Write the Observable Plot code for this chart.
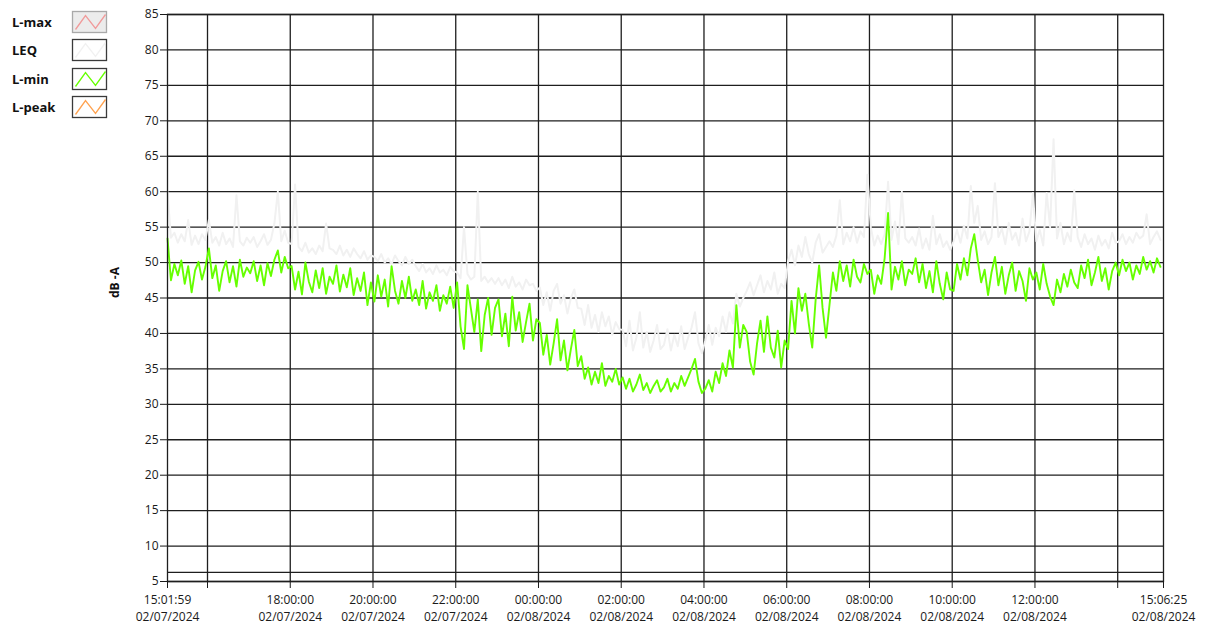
<!DOCTYPE html>
<html>
<head>
<meta charset="utf-8">
<script src="https://cdn.jsdelivr.net/npm/d3@7"></script>
<script src="https://cdn.jsdelivr.net/npm/@observablehq/plot@0.6"></script>
<style>
  html, body { margin: 0; padding: 0; background: #fff; }
  #wrap { position: relative; width: 1208px; height: 627px; overflow: hidden; font-family: "Open Sans", sans-serif; }
  #legend { position: absolute; left: 0; top: 0; }
  #chart { position: absolute; left: 0; top: 0; }
</style>
</head>
<body>
<div id="wrap">
  <div id="chart"></div>
  <svg id="legend" width="115" height="125"></svg>
</div>
<script>
// ---- data ----
const seriesNames = ["L-max", "LEQ", "L-min", "L-peak"];
const seriesColors = ["#f19a9a", "#f1f1f1", "#66ff00", "#ffa24f"];
const startTime = "2024-02-07T15:01:59";
const endTime = "2024-02-08T15:06:25";
const sampleMinutes = 5;

const lmin = [
  53.4, 47.5, 49.8, 48.2, 50.3, 47.0, 49.5, 45.8, 48.9, 50.1, 47.6, 49.4,
  52.0, 47.8, 49.6, 46.0, 48.8, 50.2, 47.2, 49.5, 46.6, 50.4, 48.0, 49.3,
  48.5, 50.2, 47.4, 49.6, 46.8, 49.9, 48.1, 50.4, 51.7, 48.6, 50.8, 49.2,
  49.5, 46.2, 48.7, 45.5, 50.0, 47.3, 45.8, 48.9, 46.4, 49.2, 45.6, 48.0,
  47.0, 49.6, 45.9, 48.3, 46.5, 49.2, 45.4, 47.8, 46.0, 48.6, 44.0, 47.2,
  44.5, 48.2, 45.2, 47.6, 43.8, 49.5, 46.0, 44.2, 47.4, 45.0, 48.0, 44.6,
  46.2, 44.0, 47.4, 43.5, 45.8, 44.6, 46.8, 43.2, 45.4, 44.2, 46.6, 43.6,
  47.2, 41.0, 37.8, 46.8, 43.5, 40.2, 44.8, 37.5, 42.6, 45.0, 39.8, 43.6,
  44.8, 39.6, 42.8, 38.2, 45.2, 40.4, 43.0, 38.8, 41.6, 44.2, 39.0, 42.0,
  41.5, 37.0, 39.8, 35.6, 38.6, 42.0, 36.2, 39.0, 34.8, 37.8, 40.5, 35.4,
  36.8, 33.6, 35.2, 32.8, 34.6, 33.0, 35.8, 32.6, 34.0, 33.2, 35.0, 32.8,
  33.8, 32.2, 33.6, 31.8, 32.8, 34.2, 32.0, 33.0, 31.6, 32.6, 33.4, 31.8,
  32.4, 33.6, 31.8, 33.0, 32.2, 34.0, 32.6, 33.8, 35.0, 36.4, 33.2, 31.6,
  32.2, 33.4, 31.8, 34.6, 33.0, 35.8, 34.0, 37.6, 35.2, 44.0, 38.0, 41.2,
  40.2, 36.0, 34.2, 38.6, 41.8, 37.4, 42.4, 38.0, 36.6, 40.4, 35.2, 39.0,
  37.8, 44.6, 40.0, 46.4, 43.2, 45.6, 41.4, 38.0, 44.8, 49.6, 43.6, 39.4,
  44.0, 48.6, 46.0, 50.2, 47.4, 49.6, 46.6, 50.4, 48.0, 47.2, 49.8, 48.4,
  49.0, 45.6, 48.2, 47.0, 50.6, 57.0, 46.2, 49.4, 47.6, 50.2, 46.8, 49.0,
  48.4, 50.6, 47.2, 49.8, 46.4, 48.8, 45.8, 50.2, 47.0, 44.8, 48.6, 46.2,
  46.0, 49.8, 47.6, 50.6, 48.2, 52.0, 54.0, 50.4, 47.2, 49.0, 45.4, 48.6,
  50.8, 46.8, 49.4, 45.6, 48.2, 50.0, 46.0, 48.8, 47.4, 44.6, 49.2, 47.6,
  48.6, 46.2, 49.8, 47.0, 45.2, 44.0, 47.6, 45.8, 48.4, 46.6, 49.0, 47.2,
  46.4, 49.6, 47.8, 50.4, 46.8, 48.6, 50.8, 47.4, 49.2, 46.2, 48.8, 50.0,
  48.2, 50.4, 48.8, 50.0, 47.6, 49.6, 48.4, 50.8, 49.0, 50.2, 48.6, 50.6, 49.4
];

const leq = [
  60.0, 53.5, 54.2, 52.8, 54.0, 53.0, 56.0, 52.5, 53.8, 52.6, 54.0, 53.2,
  56.0, 52.8, 53.6, 52.4, 54.2, 52.6, 53.4, 52.2, 59.5, 53.0, 52.4, 53.5,
  52.8, 53.6, 52.2, 53.0, 54.0, 52.5, 53.2, 55.5, 60.0, 53.0, 54.5, 52.8,
  52.6, 61.0, 52.2, 51.6, 52.8, 51.4, 52.0, 51.2, 52.4, 51.6, 55.5, 52.0,
  51.8, 51.2, 52.4, 51.0, 51.8, 50.8, 52.0, 51.2, 50.6, 51.6, 50.4, 51.0,
  50.8, 50.2, 51.2, 50.0, 50.6, 49.8, 51.0, 50.2, 49.6, 50.8, 49.8, 50.4,
  49.5, 48.8, 49.8, 48.6, 49.2, 48.4, 49.6, 48.6, 49.0, 48.2, 49.4, 48.8,
  48.6, 47.8, 55.0, 48.4, 47.6, 48.0, 60.0, 47.4, 48.0, 47.2, 47.8, 47.0,
  47.8, 46.8, 47.6, 46.4, 48.0, 46.6, 47.2, 46.2, 47.6, 46.8, 47.0, 46.0,
  46.5, 44.0, 45.8, 43.2, 46.0, 47.0, 44.2, 45.4, 42.8, 45.0, 46.2, 43.6,
  43.5, 41.2, 44.0, 40.8, 42.6, 40.2, 43.0, 41.0, 42.4, 39.8, 41.6, 40.6,
  40.5, 38.2, 41.8, 37.6, 39.4, 43.0, 38.0, 40.2, 37.4, 39.0, 41.2, 37.8,
  38.4, 40.6, 37.6, 39.8, 38.2, 41.0, 37.8, 39.4, 40.8, 43.0, 38.6, 37.2,
  39.0, 41.2, 38.4, 40.8, 39.6, 42.4, 40.2, 43.0, 41.4, 45.6, 43.8, 45.0,
  46.0, 47.2, 45.4, 46.8, 48.2, 45.8, 47.4, 46.2, 48.6, 45.6, 47.0, 46.4,
  50.2, 51.8, 49.6, 52.4, 50.8, 53.6, 51.2, 50.0, 52.8, 54.0, 51.4, 52.2,
  53.0, 52.2, 53.8, 58.8, 52.6, 54.2, 53.0, 55.0, 52.8, 54.4, 53.6, 62.4,
  55.0, 52.4, 53.8, 52.6, 54.0, 61.4, 53.2, 55.8, 52.6, 60.0, 53.4, 52.8,
  53.6, 52.4, 54.8, 52.0, 53.4, 51.8, 56.6, 52.6, 54.0, 52.2, 53.0, 51.8,
  53.0, 54.6, 52.8, 55.2, 53.4, 60.8, 55.6, 58.0, 53.2, 54.4, 52.6, 53.6,
  61.2, 53.6, 54.8, 52.6, 55.6, 53.2, 54.2, 52.4, 56.2, 53.0, 54.4, 59.8,
  53.0, 54.6, 52.4, 59.8, 55.0, 67.4, 53.4, 55.6, 52.6, 54.2, 53.0, 60.2,
  53.6, 52.2, 54.0, 52.6, 53.4, 51.8, 53.8, 52.4, 53.2, 52.0, 54.2, 52.8,
  53.0, 54.0, 52.6, 53.6, 52.8, 54.2, 53.4, 53.8, 56.8, 52.6, 53.6, 54.4, 53.2
];

const yTicks = [5, 10, 15, 20, 25, 30, 35, 40, 45, 50, 55, 60, 65, 70, 75, 80, 85];
const yExtraGrid = [6.3];

const xTickTimes = [
  "2024-02-07T15:01:59", "2024-02-07T16:00:00", "2024-02-07T18:00:00", "2024-02-07T20:00:00",
  "2024-02-07T22:00:00", "2024-02-08T00:00:00", "2024-02-08T02:00:00", "2024-02-08T04:00:00",
  "2024-02-08T06:00:00", "2024-02-08T08:00:00", "2024-02-08T10:00:00", "2024-02-08T12:00:00",
  "2024-02-08T14:00:00", "2024-02-08T15:06:25"
];
const xTickLabels = [
  "15:01:59\n02/07/2024", "", "18:00:00\n02/07/2024", "20:00:00\n02/07/2024",
  "22:00:00\n02/07/2024", "00:00:00\n02/08/2024", "02:00:00\n02/08/2024", "04:00:00\n02/08/2024",
  "06:00:00\n02/08/2024", "08:00:00\n02/08/2024", "10:00:00\n02/08/2024", "12:00:00\n02/08/2024",
  "", "15:06:25\n02/08/2024"
];
const xGridTimes = xTickTimes.slice(1, -1);

// ---- build ----
const t0 = new Date(startTime);
const rows = lmin.map((v, i) => ({
  t: new Date(t0.getTime() + i * sampleMinutes * 60000),
  lmin: v,
  leq: leq[i]
}));
const tickDates = xTickTimes.map(s => new Date(s));
const labelMap = new Map(tickDates.map((d, i) => [d.getTime(), xTickLabels[i]]));

const gridColor = "#1e1e1e";

const chart = Plot.plot({
  width: 1208,
  height: 627,
  marginLeft: 167,
  marginRight: 45,
  marginTop: 14,
  marginBottom: 46,
  style: { fontFamily: "Open Sans, sans-serif", fontSize: "12px", background: "white", color: "#1a1a1a" },
  x: { type: "time", domain: [new Date(startTime), new Date(endTime)] },
  y: { domain: [5, 85] },
  marks: [
    Plot.ruleY(yTicks.concat(yExtraGrid), { stroke: gridColor, strokeWidth: 1.3 }),
    Plot.ruleX(xGridTimes.map(s => new Date(s)), { stroke: gridColor, strokeWidth: 1.3 }),
    Plot.lineY(rows, { x: "t", y: "leq", stroke: seriesColors[1], strokeWidth: 2 }),
    Plot.lineY(rows, { x: "t", y: "lmin", stroke: seriesColors[2], strokeWidth: 1.9 }),
    Plot.frame({ stroke: gridColor, strokeWidth: 1.3 }),
    Plot.axisY({ ticks: yTicks, tickSize: 7, tickPadding: 2, label: null, fontSize: 12 }),
    Plot.axisX({
      ticks: tickDates,
      tickFormat: d => labelMap.get(d.getTime()) ?? "",
      tickSize: 7,
      tickPadding: 4,
      lineHeight: 1.4,
      label: null,
      fontSize: 12
    }),
    Plot.text(["dB -A"], { frameAnchor: "left", dx: -52, rotate: -90, fontWeight: "bold", fontSize: 12, fill: "#111" })
  ]
});
document.getElementById("chart").appendChild(chart);

// ---- legend ----
const legend = d3.select("#legend");
const rowY = [10, 38, 67, 95];
const zig = [[3, 18], [13, 4], [23, 17], [33, 3]];
seriesNames.forEach((name, i) => {
  const g = legend.append("g").attr("transform", `translate(0,${rowY[i]})`);
  g.append("text").attr("x", 12).attr("y", 17).text(name)
    .attr("font-family", "Open Sans, sans-serif").attr("font-weight", "bold")
    .attr("font-size", 13).attr("fill", "#111");
  g.append("rect").attr("x", 72.5).attr("y", 1.5).attr("width", 34).attr("height", 21)
    .attr("fill", i === 0 ? "#ececec" : "#fff")
    .attr("stroke", i === 0 ? "#a9a9a9" : "#3a3a3a").attr("stroke-width", 1.3);
  g.append("polyline")
    .attr("points", zig.map(([x, y]) => `${72.5 + x},${1.5 + y}`).join(" "))
    .attr("fill", "none").attr("stroke", seriesColors[i]).attr("stroke-width", 1.3);
});
</script>
</body>
</html>
